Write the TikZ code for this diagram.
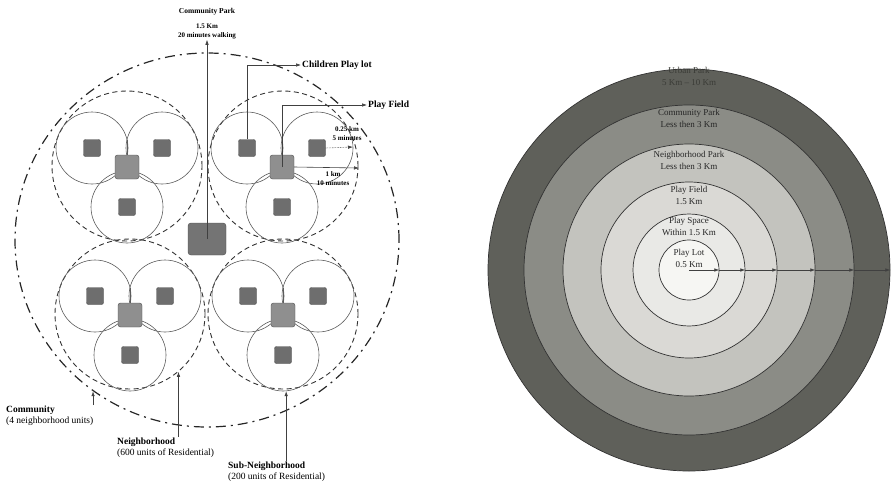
\documentclass[tikz,border=0pt]{standalone}
\usepackage{fontspec}
\setmainfont{Liberation Serif}
\usepackage{tikz}
\usetikzlibrary{arrows.meta,positioning,shapes}

\definecolor{lineg}{HTML}{5C5C5C}
\definecolor{housefill}{HTML}{6E6E6E}
\definecolor{centrefill}{HTML}{8F8F8F}
\definecolor{parkfill}{HTML}{747474}
\definecolor{urbanc}{HTML}{5F605A}
\definecolor{urbantext}{HTML}{3A3B36}
\definecolor{commc}{HTML}{8B8C86}
\definecolor{nbhdc}{HTML}{C3C3BE}
\definecolor{fieldc}{HTML}{DAD9D5}
\definecolor{spacec}{HTML}{E9E9E6}
\definecolor{lotc}{HTML}{F6F6F3}

\begin{document}
\begin{tikzpicture}[x=1pt,y=-1pt,
  subn/.style={circle,draw=lineg,line width=0.6pt,minimum size=72pt,inner sep=0pt},
  nbhd/.style={circle,draw=black!80,dash pattern=on 5pt off 3.5pt,line width=0.9pt,minimum size=150pt,inner sep=0pt},
  house/.style={rectangle,rounded corners=2pt,draw=black!70,fill=housefill,minimum size=17pt,inner sep=0pt},
  centre/.style={rectangle,rounded corners=2.5pt,draw=black!70,fill=centrefill,minimum size=24pt,inner sep=0pt},
  lab/.style={font=\fontsize{9.5}{11}\selectfont,align=left,inner sep=1pt},
  tiny/.style={font=\fontsize{7}{9}\selectfont\bfseries,align=center,inner sep=1pt},
  arr/.style={-{Latex[length=5pt,width=3.5pt]},line width=0.6pt,draw=black!75},
  ring/.style={circle,draw=black!80,line width=0.7pt,inner sep=0pt},
  ringlab/.style={font=\fontsize{9}{12}\selectfont,align=center,text=black!85,inner sep=0pt}]

\useasboundingbox (0,0) rectangle (892,488);

% Community (dash-dot)
\node[ellipse,draw=black!85,line width=1.2pt,dash pattern=on 10pt off 5pt on 2pt off 5pt,
  minimum width=384pt,minimum height=374pt,inner sep=0pt] (comty) at (207,240) {};

% Neighborhoods
\node[nbhd] (ntl) at (127,166) {};
\node[nbhd] (ntr) at (283,166) {};
\node[nbhd] (nbl) at (130,314) {};
\node[nbhd] (nbr) at (283,314) {};

% Top-left neighborhood
\node[subn] (tlA) at (92,148) {};
\node[subn] (tlB) at (162,148) {};
\node[subn] (tlD) at (127,207) {};
\coordinate (tlK) at (127,140);
\node[house] (tlAh) at (tlA) {};
\node[house] (tlBh) at (tlB) {};
\node[house] (tlDh) at (tlD) {};
\node[centre] (tlCh) at (127,167) {};
\draw[lineg,line width=0.6pt] (tlCh) -- (tlK);

% Top-right neighborhood
\node[subn] (trA) at (247,148) {};
\node[subn] (trB) at (317,148) {};
\node[subn] (trD) at (282,207) {};
\node[house] (trAh) at (trA) {};
\node[house] (trBh) at (trB) {};
\node[house] (trDh) at (trD) {};
\node[centre] (trCh) at (282,167) {};

% Bottom-left neighborhood
\node[subn] (blA) at (95,296) {};
\node[subn] (blB) at (165,296) {};
\node[subn] (blD) at (130,355) {};
\coordinate (blK) at (130,288);
\node[house] (blAh) at (blA) {};
\node[house] (blBh) at (blB) {};
\node[house] (blDh) at (blD) {};
\node[centre] (blCh) at (130,315) {};
\draw[lineg,line width=0.6pt] (blCh) -- (blK);

% Bottom-right neighborhood
\node[subn] (brA) at (248,296) {};
\node[subn] (brB) at (318,296) {};
\node[subn] (brD) at (283,355) {};
\coordinate (brK) at (283,288);
\node[house] (brAh) at (brA) {};
\node[house] (brBh) at (brB) {};
\node[house] (brDh) at (brD) {};
\node[centre] (brCh) at (283,315) {};
\draw[lineg,line width=0.6pt] (brCh) -- (brK);

% Community park
\node[rectangle,rounded corners=3pt,draw=black!70,fill=parkfill,minimum width=38pt,minimum height=32pt] (cp) at (207,239) {};
\node[tiny,font=\fontsize{7.5}{9}\selectfont\bfseries] (cpname) at (207,12) {Community Park};
\node[tiny] (cpdist) at (207,31) {1.5 Km\\20 minutes walking};
\draw[arr] (cp.center) -- (cpdist.south);

% Play lot / play field callouts
\node[lab,font=\fontsize{9.5}{11}\selectfont\bfseries,anchor=west] (cpl) at (301,65) {Children Play lot};
\node[lab,font=\fontsize{9.5}{11}\selectfont\bfseries,anchor=west] (pfl) at (367,105) {Play Field};
\draw[arr] (trAh.north) |- (cpl.west);
\draw[arr] (trCh.center) |- (pfl.west);
\coordinate (qk) at (353,147);
\coordinate (ok) at (359,168);
\draw[arr,densely dotted] (trBh.east) -- (qk);
\draw[arr] (trCh.east) -- (ok);
\node[tiny] (qkl) at (347,134) {0.25 km\\5 minutes};
\node[tiny] (okl) at (333,179) {1 km\\10 minutes};

% Bottom labels
\node[lab,anchor=north west] (comm) at (5,405) {\textbf{Community}\\(4 neighborhood units)};
\node[lab,anchor=north west] (nbh) at (116,437) {\textbf{Neighborhood}\\(600 units of Residential)};
\node[lab,anchor=north west] (subl) at (227,461) {\textbf{Sub-Neighborhood}\\(200 units of Residential)};
\draw[arr] (comty.233 |- comm.north) -- (comty.233);
\draw[arr] (nbl.310 |- nbh.north) -- (nbl.310);
\draw[arr] (brD.275 |- subl.north) -- (brD.275);

% Recreation hierarchy rings
\node[ring,fill=urbanc,minimum size=402pt] (urban) at (689,270) {};
\node[ring,fill=commc,minimum size=330pt] (cpark) at (689,270) {};
\node[ring,fill=nbhdc,minimum size=252pt] (npark) at (689,270) {};
\node[ring,fill=fieldc,minimum size=176pt] (field) at (689,270) {};
\node[ring,fill=spacec,minimum size=112pt] (space) at (689,270) {};
\node[ring,fill=lotc,minimum size=60pt] (lot) at (689,270) {};
\coordinate (mid) at (689,270);

\node[ringlab,text=urbantext] (urbanl) at (689,76) {Urban Park\\5 Km -- 10 Km};
\node[ringlab] (cparkl) at (689,118) {Community Park\\Less then 3 Km};
\node[ringlab] (nparkl) at (689,160) {Neighborhood Park\\Less then 3 Km};
\node[ringlab] (fieldl) at (689,195) {Play Field\\1.5 Km};
\node[ringlab] (spacel) at (689,226) {Play Space\\Within 1.5 Km};
\node[ringlab] (lotl) at (689,258) {Play Lot\\0.5 Km};

\draw[arr] (mid) -- (lot.east);
\draw[arr] (lot.east) -- (space.east);
\draw[arr] (space.east) -- (field.east);
\draw[arr] (field.east) -- (npark.east);
\draw[arr] (npark.east) -- (cpark.east);
\draw[arr] (cpark.east) -- (urban.east);
\end{tikzpicture}
\end{document}
